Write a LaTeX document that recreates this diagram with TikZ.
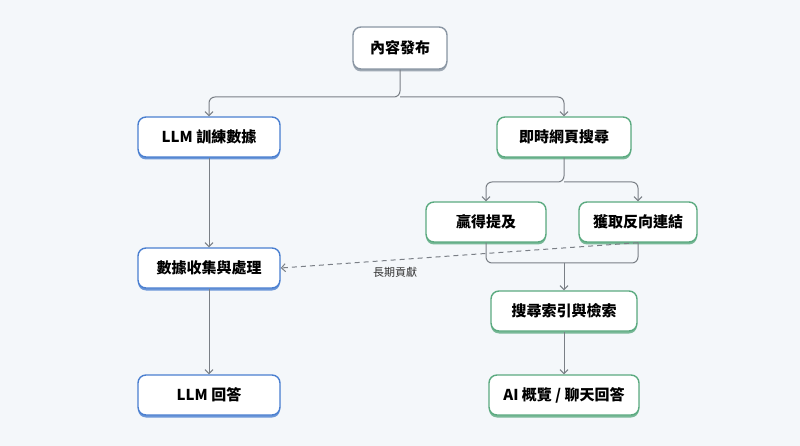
\documentclass[tikz,border=0pt]{standalone}
\usepackage{fontspec}
\setmainfont{Noto Sans CJK TC}
\usetikzlibrary{positioning,arrows.meta,shadows}
\definecolor{bgcol}{HTML}{F4F7FA}
\definecolor{graycol}{HTML}{8A96A3}
\definecolor{bluecol}{HTML}{4A7FD0}
\definecolor{greencol}{HTML}{5BAA80}
\definecolor{linecol}{HTML}{7A7F86}
\tikzset{
  box/.style={draw, line width=1.4pt, rounded corners=8pt, fill=white,
    minimum height=40pt, inner xsep=10pt, font=\bfseries\fontsize{15}{17}\selectfont,
    drop shadow={shadow xshift=0pt, shadow yshift=-2.5pt, fill=#1, opacity=0.8}},
  gbox/.style={box=graycol, draw=graycol},
  bbox/.style={box=bluecol, draw=bluecol},
  ebox/.style={box=greencol, draw=greencol},
  link/.style={draw=linecol, line width=1pt, rounded corners=6pt, -{Straight Barb[length=4pt,width=8pt]}},
  merge/.style={draw=linecol, line width=1pt, rounded corners=6pt},
}
\begin{document}
\begin{tikzpicture}[x=1pt,y=-1pt]
\fill[bgcol] (0,0) rectangle (800,446);
\useasboundingbox (0,0) rectangle (800,446);
\node[gbox, minimum width=94pt, minimum height=42pt] (publish) at (400,48) {內容發布};
\node[bbox, minimum width=142pt] (train) at (209,137) {LLM 訓練數據};
\node[ebox, minimum width=134pt] (search) at (564,137) {即時網頁搜尋};
\node[ebox, minimum width=120pt] (mention) at (486,222) {贏得提及};
\node[ebox, minimum width=118pt] (backlink) at (638,222) {獲取反向連結};
\node[bbox, minimum width=142pt] (collect) at (209,268) {數據收集與處理};
\node[ebox, minimum width=146pt] (index) at (564,311) {搜尋索引與檢索};
\node[bbox, minimum width=142pt] (answer) at (209,395) {LLM 回答};
\node[ebox, minimum width=150pt] (overview) at (564,395) {AI 概覽 / 聊天回答};
\coordinate (fork1) at (400,97);
\coordinate (fork2) at (564,182);
\coordinate (join) at (564,263);
% branches
\draw[link] (publish.south) -- (fork1) -| (train.north);
\draw[link] (fork1) -| (search.north);
\draw[link] (search.south) -- (fork2) -| (mention.north);
\draw[link] (fork2) -| (backlink.north);
\draw[merge] (mention.south) |- (join);
\draw[merge] (backlink.south) |- (join);
\draw[link] (join) -- (index.north);
\draw[link] (train) -- (collect);
\draw[link] (collect) -- (answer);
\draw[link] (index) -- (overview);
% long term
\draw[link, dashed, dash pattern=on 5pt off 4pt, rounded corners=0pt] (backlink.south) -- (collect.east)
  node[pos=0.68, below=4pt, font=\fontsize{11}{13}\selectfont, text=black!80] {長期貢獻};
\end{tikzpicture}
\end{document}
